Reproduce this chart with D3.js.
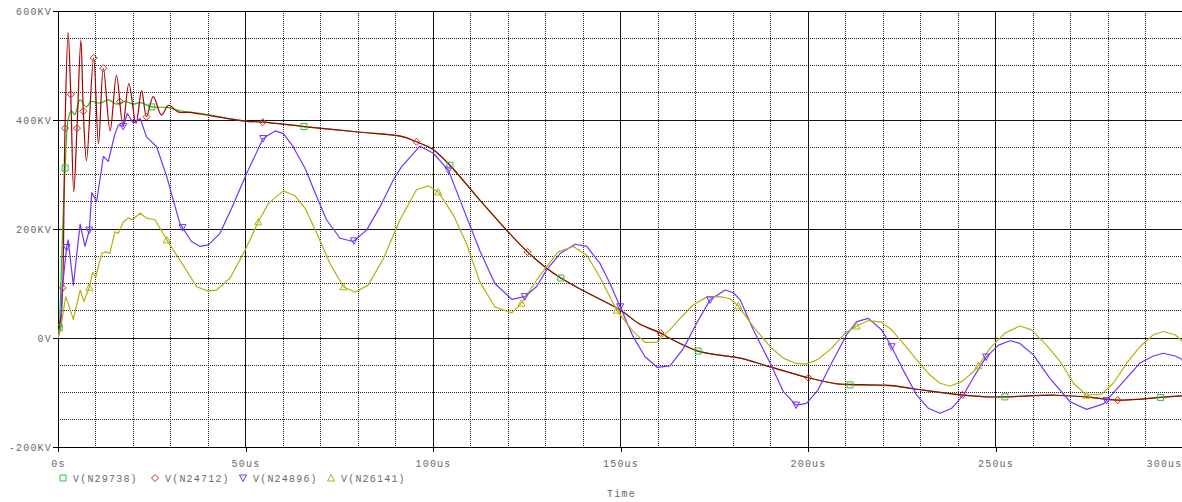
<!DOCTYPE html>
<html>
<head>
<meta charset="utf-8">
<script src="https://cdn.jsdelivr.net/npm/d3@7"></script>
<style>
  html, body { margin: 0; padding: 0; background: #fff; }
  svg { display: block; }
  text { font-family: "Liberation Mono", "DejaVu Sans Mono", monospace; font-size: 10px; fill: #6a6a6a; letter-spacing: 1.2px; }
</style>
</head>
<body>
<svg id="chart" width="1182" height="502"></svg>
<script>
// Transient voltages at four nodes, time in microseconds, voltage in kV

const timeTicks = [0, 50, 100, 150, 200, 250, 300];
const timeLabels = ["0s", "50us", "100us", "150us", "200us", "250us", "300us"];
const voltTicks = [-200, 0, 200, 400, 600];
const voltLabels = ["-200KV", "0V", "200KV", "400KV", "600KV"];

const seriesNames = ["V(N29738)", "V(N24712)", "V(N24896)", "V(N26141)"];

// V(N29738)
const tN29738 = [0, 0.35, 1.0, 1.9, 2.7, 3.5, 4.5, 5.9, 7.5, 8.9, 11.2, 13.4, 15.6, 17.9, 20.1, 21.9, 25.0, 29.0, 32.5, 37.9,
  50, 54.6, 65.6, 80, 91.6, 95.6, 100, 104.5, 112.5, 119.6, 125.2, 130.3, 134.1, 140, 150, 155, 160.7, 163, 170.7, 176,
  181.9, 189.9, 200.1, 207.6, 211.2, 221.9, 229, 238.8, 247.6, 252.5, 266, 274, 282.6, 289, 294, 300];
const vN29738 = [0, 19, 150, 312, 400, 417, 410, 437, 424, 434, 431, 437, 429, 434, 429, 432, 424, 423, 417, 412,
  398, 396, 388, 378, 370, 360, 346, 317, 253, 198, 158, 128, 110, 87, 51, 26, 9, 0, -24, -31,
  -37, -53, -73, -84, -86, -88, -94, -103, -108, -108, -105, -108, -114, -112, -109, -106];

// V(N24712)
const tN24712 = [0, 0.8, 1.25, 1.87, 2.7, 3.4, 4.2, 5.07, 6.1, 6.75, 7.6, 9.5, 10.8, 12.1, 13.9, 15.6, 17.3, 18.9, 20.8, 22.3,
  23.6, 25.4, 27.6, 29.5, 32.0, 35, 37.9, 50, 54.6, 65.6, 80, 91.6, 95.6, 100, 104.5, 112.5, 119.6, 125.2, 130.3, 134.1,
  140, 150, 155, 160.7, 163, 170.7, 176, 181.9, 189.9, 200.1, 207.6, 211.2, 221.9, 229, 238.8, 247.6, 252.5, 266, 274, 282.6,
  289, 294, 300];
const vN24712 = [0, 40, 92, 385, 561, 447, 268, 385, 546, 416, 325, 514, 356, 495, 380, 482, 391, 467, 394, 454,
  406, 443, 409, 427, 415, 414, 411, 398, 396, 388, 378, 370, 360, 346, 317, 253, 198, 158, 128, 110,
  87, 51, 26, 9, 0, -24, -31, -37, -53, -73, -84, -85, -87, -94, -103, -108, -108, -105, -108, -114,
  -112, -109, -106];

// V(N24896)
const tN24896 = [0, 0.8, 1.1, 2.3, 2.7, 4.1, 5.9, 7.2, 8.35, 9.0, 10.3, 12.1, 13.4, 15.2, 16.1, 17.4, 18.5, 20.1, 21.9, 23.6,
  26.3, 29, 32.5, 35.6, 37.9, 40.1, 43.2, 46.3, 50.3, 54.7, 57.9, 60.1, 62.7, 65.9, 69, 71.6, 75.2, 78.7, 82.3, 85.9,
  89.4, 91.6, 96.5, 100.1, 104.1, 107.2, 112.5, 116.5, 121, 124.5, 127.6, 130.3, 133.9, 137.9, 141, 144.5, 147.2, 150.3, 153.4, 156.5,
  159.8, 163.2, 166.8, 170.3, 173.9, 177.9, 180.1, 181.9, 185.4, 189.9, 193.4, 196.8, 199.6, 202.7, 206.3, 210.3, 213, 216.1, 219.6, 222.3,
  225.4, 229, 232.1, 235.2, 238.3, 241.4, 244.5, 247.5, 250.8, 253.9, 256.5, 260.1, 264.5, 269.9, 274.3, 278.8, 284.1, 288.5, 292.1, 294.7,
  297.9, 300];
const vN24896 = [0, 20, 88, 166, 180, 97, 209, 168, 198, 267, 250, 333, 324, 375, 391, 388, 412, 394, 403, 369,
  351, 296, 210, 177, 168, 171, 192, 238, 302, 366, 380, 375, 351, 311, 259, 217, 183, 177, 198, 241,
  290, 314, 352, 339, 308, 253, 160, 100, 71, 76, 94, 125, 155, 172, 168, 137, 100, 51, 2, -34,
  -54, -51, -19, 27, 70, 88, 83, 70, 15, -46, -98, -123, -120, -95, -46, 6, 30, 36, 15, -16,
  -59, -105, -129, -138, -129, -105, -68, -35, -13, -5, -10, -31, -74, -117, -131, -121, -80, -46, -33, -28,
  -33, -40];

// V(N26141)
const tN26141 = [0, 1.0, 1.9, 2.1, 4.1, 5.9, 6.9, 8.35, 9.2, 10.1, 11.6, 12.8, 13.8, 15.2, 16.1, 17.4, 18.8, 19.8, 21.9, 23.6,
  25.9, 29, 32.5, 37, 40.1, 42.3, 45.9, 49.9, 53.4, 56.1, 60.1, 63.2, 65.9, 69, 72.5, 76.1, 79.2, 82.7, 86.8, 91.2,
  95.6, 98.8, 101.4, 105.4, 109, 112.5, 116.5, 121, 123.6, 127.6, 130.3, 133.4, 137.4, 141, 144.5, 149, 153, 156.5, 159.6, 163.2,
  165.9, 169.4, 173, 176.5, 179.2, 181.4, 185.4, 189.9, 193.4, 196.5, 199.6, 202.7, 206.3, 209.9, 213, 216.1, 219.6, 222.3, 225.4, 229,
  232.5, 235.2, 237.9, 241, 244.1, 245.4, 248.5, 252.5, 256.5, 259.6, 263.6, 267.2, 270.8, 274.3, 278.3, 281.4, 285, 288.5, 292.1, 294.7,
  297.9, 300];
const vN26141 = [0, 30, 70, 76, 34, 88, 67, 93, 120, 112, 155, 158, 155, 195, 192, 213, 220, 217, 229, 220,
  217, 180, 143, 94, 86, 88, 110, 161, 213, 247, 270, 261, 238, 192, 137, 94, 84, 97, 146, 217,
  272, 279, 268, 226, 172, 103, 57, 46, 64, 106, 131, 158, 168, 152, 112, 51, 15, -8, -8, 15,
  36, 61, 75, 76, 72, 59, 21, -16, -37, -46, -48, -39, -19, 9, 22, 32, 29, 15, -10, -40,
  -68, -83, -88, -80, -62, -51, -19, 9, 22, 15, -13, -43, -83, -105, -103, -83, -46, -16, 6, 12,
  6, -7];

// Times at which each trace carries its symbol
const mkN29738 = [0.35, 1.9, 25.0, 65.6, 104.5, 134.1, 170.7, 211.2, 252.5, 294.0];
const mkN24712 = [1.25, 1.87, 3.4, 5.07, 6.75, 9.5, 12.1, 16.5, 23.6, 54.6, 95.6, 125.2, 160.7, 200.1, 241.2, 282.6];
const mkN24896 = [2.3, 8.35, 17.4, 33.2, 54.7, 78.9, 104.1, 124.5, 149.9, 173.9, 196.8, 222.3, 247.5, 279.6];
const mkN26141 = [8.35, 29, 53.4, 76.1, 101.4, 123.6, 149, 181.4, 213, 245.4, 274.3];

const traces = [
  { name: seriesNames[0], t: tN29738, v: vN29738, marks: mkN29738, line: "#1fbf1f", mark: "#2fbf3a", symbol: "square", smooth: true },
  { name: seriesNames[1], t: tN24712, v: vN24712, marks: mkN24712, line: "#a80000", mark: "#d02828", symbol: "diamond", smooth: true },
  { name: seriesNames[2], t: tN24896, v: vN24896, marks: mkN24896, line: "#7333ff", mark: "#7333ff", symbol: "down", smooth: false },
  { name: seriesNames[3], t: tN26141, v: vN26141, marks: mkN26141, line: "#b5b010", mark: "#b5b010", symbol: "up", smooth: false }
];

const plot = { left: 58, right: 1183, top: 11, bottom: 447 };

const x = d3.scaleLinear().domain([0, 300]).range([plot.left, plot.right]);
const y = d3.scaleLinear().domain([-200, 600]).range([plot.bottom, plot.top]);

const svg = d3.select("#chart");

// Grid: dotted minor lines every 10us / 50kV, solid major lines at labelled ticks
const grid = svg.append("g").attr("shape-rendering", "crispEdges");
const minorT = d3.range(10, 300, 10).filter(d => d % 50 !== 0);
const minorV = d3.range(-150, 600, 50).filter(d => d % 200 !== 0);

grid.selectAll(".minor-x").data(minorT).join("line")
  .attr("x1", d => x(d)).attr("x2", d => x(d))
  .attr("y1", plot.top).attr("y2", plot.bottom)
  .attr("stroke", "#222").attr("stroke-dasharray", "1,1");
grid.selectAll(".minor-y").data(minorV).join("line")
  .attr("x1", plot.left).attr("x2", plot.right)
  .attr("y1", d => y(d)).attr("y2", d => y(d))
  .attr("stroke", "#222").attr("stroke-dasharray", "1,1");

grid.selectAll(".major-x").data(timeTicks.filter(d => d > 0 && d < 300)).join("line")
  .attr("x1", d => x(d)).attr("x2", d => x(d))
  .attr("y1", plot.top).attr("y2", plot.bottom)
  .attr("stroke", "#111");
grid.selectAll(".major-y").data(voltTicks.filter(d => d > -200 && d < 600)).join("line")
  .attr("x1", plot.left).attr("x2", plot.right)
  .attr("y1", d => y(d)).attr("y2", d => y(d))
  .attr("stroke", "#111");

// Frame
grid.append("line").attr("x1", plot.left).attr("x2", plot.right).attr("y1", plot.top).attr("y2", plot.top).attr("stroke", "#000");

// Axes
const yAxis = d3.axisLeft(y).tickValues(voltTicks).tickSize(5).tickPadding(1)
  .tickFormat((d, i) => voltLabels[i]);
const gy = svg.append("g").attr("transform", `translate(${plot.left},0)`).call(yAxis);

const xAxis = d3.axisBottom(x).tickValues(timeTicks).tickSize(5).tickPadding(8)
  .tickFormat((d, i) => timeLabels[i]);
const gx = svg.append("g").attr("transform", `translate(0,${plot.bottom})`).call(xAxis);

[gx, gy].forEach(g => {
  g.attr("font-family", null).attr("font-size", null);
  g.select(".domain").attr("stroke", "#000").attr("shape-rendering", "crispEdges");
  g.selectAll(".tick line").attr("stroke", "#000").attr("shape-rendering", "crispEdges");
  g.selectAll(".tick text").attr("fill", "#6a6a6a");
});
gy.select(".domain").attr("d", `M0,${plot.bottom}V${plot.top}`);
gx.select(".domain").attr("d", `M${plot.left},0H${plot.right}`);
// last time label sits against the right edge
gx.selectAll(".tick text").filter(d => d === 300).attr("text-anchor", "end").attr("dx", "-1");

// Traces
svg.append("clipPath").attr("id", "plotclip").append("rect")
  .attr("x", plot.left).attr("y", plot.top)
  .attr("width", plot.right - plot.left).attr("height", plot.bottom - plot.top);

const traceLayer = svg.append("g").attr("clip-path", "url(#plotclip)");
const lineStraight = d3.line().x(d => x(d[0])).y(d => y(d[1]));
const lineSmooth = d3.line().x(d => x(d[0])).y(d => y(d[1])).curve(d3.curveCatmullRom.alpha(0.5));

function valueAt(tr, t) {
  const i = d3.bisectRight(tr.t, t);
  if (i <= 0) return tr.v[0];
  if (i >= tr.t.length) return tr.v[tr.v.length - 1];
  const t0 = tr.t[i - 1], t1 = tr.t[i];
  const f = (t - t0) / (t1 - t0);
  return tr.v[i - 1] + f * (tr.v[i] - tr.v[i - 1]);
}

function symbolPath(kind) {
  switch (kind) {
    case "square": return "M-3,-3H3V3H-3Z";
    case "diamond": return "M0,-3.5L3.5,0L0,3.5L-3.5,0Z";
    case "down": return "M-3.5,-3L3.5,-3L0,3.5Z";
    case "up": return "M-3.5,3L3.5,3L0,-3.5Z";
  }
}

traces.forEach(tr => {
  traceLayer.append("path")
    .datum(tr.t.map((t, i) => [t, tr.v[i]]))
    .attr("fill", "none")
    .attr("stroke", tr.line)
    .attr("stroke-width", 1.2)
    .attr("stroke-linejoin", "round")
    .attr("d", tr.smooth ? lineSmooth : lineStraight);
});

traces.forEach(tr => {
  traceLayer.selectAll(null).data(tr.marks).join("path")
    .attr("transform", t => `translate(${x(t)},${y(valueAt(tr, t))})`)
    .attr("d", symbolPath(tr.symbol))
    .attr("fill", "none")
    .attr("stroke", tr.mark)
    .attr("stroke-width", 1);
});

// Legend
const legendX = [63, 155, 243, 331];
const legend = svg.append("g").attr("transform", "translate(0,478)");
traces.forEach((tr, i) => {
  legend.append("path")
    .attr("transform", `translate(${legendX[i]},0)`)
    .attr("d", symbolPath(tr.symbol))
    .attr("fill", "none")
    .attr("stroke", tr.mark);
  legend.append("text")
    .attr("x", legendX[i] + 10)
    .attr("y", 3.5)
    .text(tr.name);
});

// Axis title
svg.append("text")
  .attr("x", (plot.left + plot.right) / 2 + 1)
  .attr("y", 497)
  .attr("text-anchor", "middle")
  .text("Time");
</script>
</body>
</html>
